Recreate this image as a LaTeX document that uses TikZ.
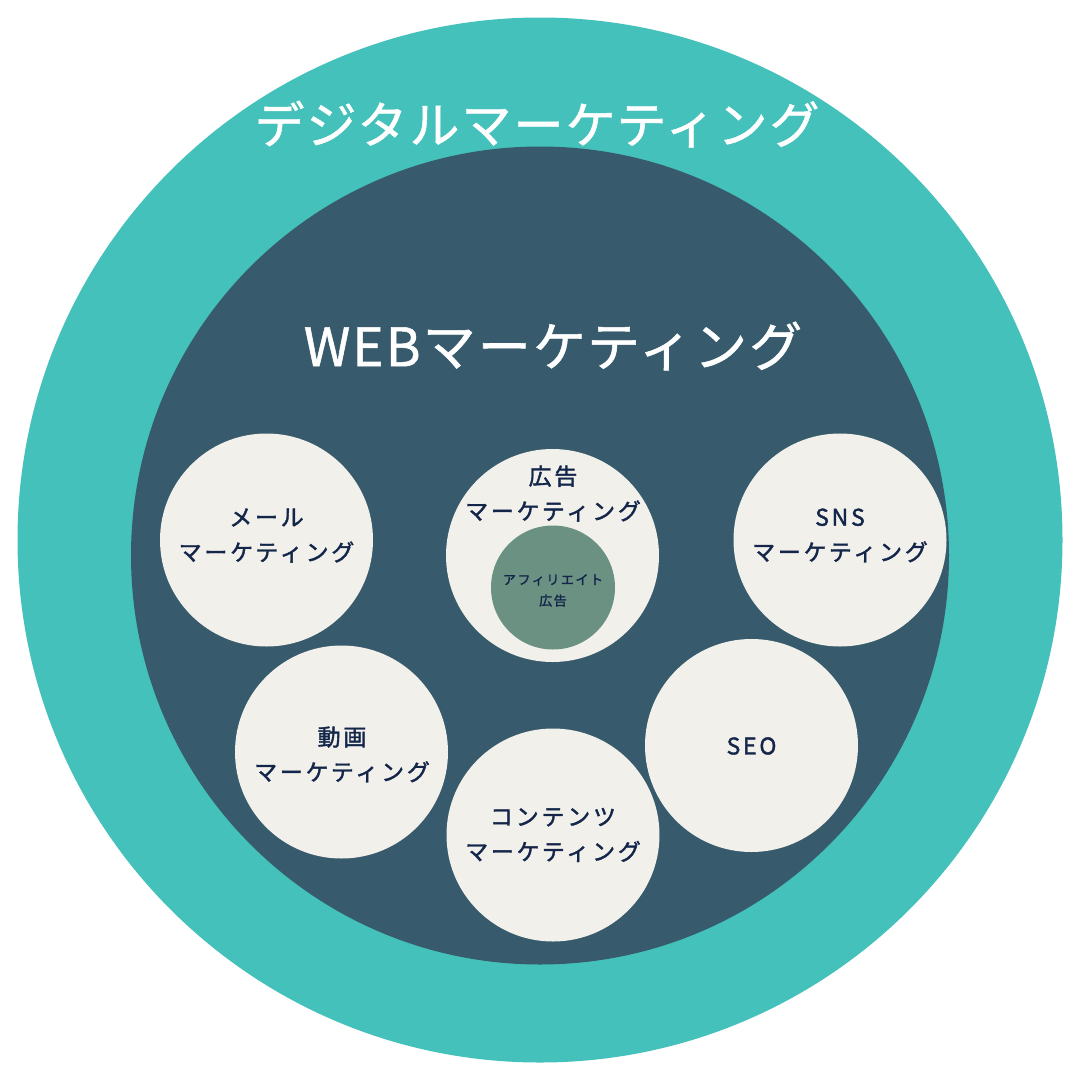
\documentclass[tikz,border=0pt]{standalone}
\usepackage{fontspec}
\newfontfamily\jptitle[LetterSpace=4,FakeBold=1]{Noto Sans CJK JP}
\newfontfamily\jpsp[LetterSpace=12,FakeBold=1.6]{Noto Sans CJK JP}
\definecolor{teal1}{HTML}{44C1BA}
\definecolor{dark1}{HTML}{375B6C}
\definecolor{cream}{HTML}{F2F0EB}
\definecolor{sage}{HTML}{6B9183}
\definecolor{navy}{HTML}{13264A}
\tikzset{
  bubble/.style={circle, fill=cream, minimum size=213pt, inner sep=0pt},
  lbl/.style={text=navy, align=center, font=\jpsp\fontsize{23}{35}\selectfont, inner sep=0pt},
  title/.style={text=white, font=\jptitle\fontsize{50}{60}\selectfont, inner sep=0pt}
}
\begin{document}
\begin{tikzpicture}[x=1pt,y=-1pt]
\useasboundingbox (0,0) rectangle (1080,1080);
\fill[white] (0,0) rectangle (1080,1080);
\node[circle, fill=teal1, minimum size=1045pt, inner sep=0pt] (outer) at (540,540) {};
\node[circle, fill=dark1, minimum size=818pt, inner sep=0pt] (web) at (540,555.5) {};
\node[title] (tdigital) at (537,124) {デジタルマーケティング};
\node[title, font=\jptitle\fontsize{53}{60}\selectfont] (tweb) at (553,346) {WEBマーケティング};

\node[bubble] (mail) at (266.5,540) {};
\node[bubble] (ad) at (552.5,555.5) {};
\node[circle, fill=sage, minimum size=124pt, inner sep=0pt] (aff) at (553,587.5) {};
\node[bubble] (sns) at (840,540) {};
\node[bubble] (video) at (341.5,752) {};
\node[bubble] (seo) at (751.5,745.5) {};
\node[bubble] (cont) at (553,835) {};

\node[lbl] (mailt) at (266.5,535.5) {メール\\マーケティング};
\node[lbl] (adt) at (553,493.5) {広告\\マーケティング};
\node[lbl, font=\jpsp\fontsize{13}{21}\selectfont] (afft) at (553,590.5) {アフィリエイト\\広告};
\node[lbl] (snst) at (840,535.5) {SNS\\マーケティング};
\node[lbl] (videot) at (342,754.5) {動画\\マーケティング};
\node[lbl] (seot) at (751.5,746) {SEO};
\node[lbl] (contt) at (553,835) {コンテンツ\\マーケティング};
\end{tikzpicture}
\end{document}
